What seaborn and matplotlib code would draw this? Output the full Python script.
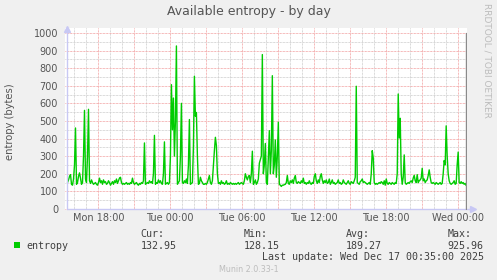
import numpy as np
import pandas as pd
import matplotlib
matplotlib.use("Agg")
import matplotlib.pyplot as plt
from matplotlib.ticker import MultipleLocator
import seaborn as sns

# ---- data (5-minute samples of available entropy, bytes) ----
seg_a = [150, 165, 185, 195, 140, 135, 170, 250, 460, 140, 150, 185, 205, 175, 140, 150,
         300, 560, 170, 150, 300, 566, 160, 145, 165, 150, 140, 145, 150, 140, 135, 150]
seg_b = [175, 150, 160, 140, 165, 150, 155, 140, 145, 160, 150, 135, 145, 155, 140, 160,
         150, 170, 145, 160, 175, 180, 150, 140, 145, 140, 145, 150, 140, 145, 140, 150,
         145, 175, 150, 140]
seg_c = [145, 150, 140, 135, 145, 140, 150, 145, 160, 375, 140, 145, 150, 145, 160, 150,
         155, 145, 200, 418, 140, 150, 145, 165, 150, 160, 145, 140, 200, 381, 140, 145,
         150, 140, 150, 300, 706, 450, 630, 300, 500, 926, 140, 150, 160, 300, 600, 150,
         145, 160, 150, 170, 145, 250, 508, 140, 145, 150, 350, 754, 527, 548, 300, 140,
         145, 180]
seg_d = [160, 150, 140, 140, 145, 140, 150, 170, 190, 150, 140, 160, 250, 330, 407, 360,
         200, 145, 150, 140, 160, 145, 150, 140, 145, 160, 140, 145, 140, 150, 145, 140,
         145, 140, 145, 140, 145, 150, 140, 145, 150, 145, 140, 160, 200, 180, 165, 185,
         190, 150, 200, 328, 140, 150, 165, 140, 150, 170, 260]
seg_e = [280, 300, 877, 200, 250, 372, 150, 140, 300, 445, 200, 330, 757, 200, 250, 392,
         180, 300, 493, 140, 135]
seg_f = [128, 135, 135, 138, 140, 150, 190, 145, 140, 160, 150, 165, 145, 175, 190, 150,
         145, 155, 150, 145, 160, 150, 175, 145, 150, 140, 150, 145, 160, 145, 140, 150,
         145, 185, 200, 160, 145, 165, 150, 185, 200, 165, 145, 160, 150, 165, 145, 150,
         170, 140, 150, 165, 145, 150, 140, 145]
seg_g = [150, 165, 145, 150, 140, 145, 165, 150, 145, 140, 150, 160, 145, 140, 155, 150,
         145, 160, 180, 697, 150, 145, 140, 155, 160, 170, 150, 155, 150, 145, 140, 145,
         150, 140, 200, 331, 290, 150, 140, 145, 140, 145, 150, 145, 155, 150, 140, 160,
         135, 170, 145, 140, 150, 145, 140, 150, 145, 140, 150, 145, 200, 653, 403, 515,
         200, 140, 180, 307]
seg_h = [150, 140, 145, 150, 145, 155, 160, 150, 175, 191, 160, 150, 195, 150, 160, 165,
         175, 231, 160, 170, 150, 160, 165, 190, 222, 180, 150, 145, 150, 145, 140, 150,
         145, 140, 145, 150, 140, 145, 200, 275, 250, 472, 300, 200, 160, 145, 140, 145,
         150, 160, 140, 145, 250, 323, 150, 145, 155, 145, 150, 140, 145, 133]
entropy = seg_a + seg_b + seg_c + seg_d + seg_e + seg_f + seg_g + seg_h

first_sample_hour = -8.57          # hours relative to Tue 00:00
sample_minutes = 5
view_start_hour = -8.78
view_end_hour = 24.75
now_line_hour = 24.64

x_tick_hours = [-6, 0, 6, 12, 18, 24]
x_tick_labels = ["Mon 18:00", "Tue 00:00", "Tue 06:00", "Tue 12:00", "Tue 18:00", "Wed 00:00"]
y_tick_values = [0, 100, 200, 300, 400, 500, 600, 700, 800, 900, 1000]

title = "Available entropy - by day"
y_label = "entropy (bytes)"
series_name = "entropy"
stat_names = ["Cur:", "Min:", "Avg:", "Max:"]
stat_values = ["132.95", "128.15", "189.27", "925.96"]
last_update = "Last update: Wed Dec 17 00:35:00 2025"
footer = "Munin 2.0.33-1"
side_text = "RRDTOOL / TOBI OETIKER"

hours = first_sample_hour + np.arange(len(entropy)) * sample_minutes / 60.0
df = pd.DataFrame({"hour": hours, "entropy": entropy})

# ---- figure ----
sns.set_theme(style="white")
plt.rcParams["font.family"] = ["DejaVu Sans"]

W, H = 497, 280
BG = "#f0f0f0"
fig = plt.figure(figsize=(W / 100, H / 100), dpi=100, facecolor=BG)

def fx(px):
    return px / W

def fy(py):
    return 1 - py / H

left_px, right_px, top_px, bottom_px = 65, 467, 28, 210
ax = fig.add_axes([fx(left_px), fy(bottom_px), fx(right_px - left_px), (bottom_px - top_px) / H])
ax.set_facecolor("white")

sns.lineplot(data=df, x="hour", y="entropy", color="#00cc00", linewidth=1.0, ax=ax, zorder=5)

ax.set_xlim(view_start_hour, view_end_hour)
ax.set_ylim(-6, 1028)

# grid
grid_hours = np.arange(-6, 25, 3)
ax.set_xticks(grid_hours)
ax.set_xticklabels([x_tick_labels[x_tick_hours.index(h)] if h in x_tick_hours else ""
                    for h in grid_hours])
ax.xaxis.set_minor_locator(MultipleLocator(1))
ax.set_yticks(y_tick_values)
ax.set_yticklabels([str(v) for v in y_tick_values])
ax.yaxis.set_minor_locator(MultipleLocator(50))
dot = (0, (0.72, 0.72))
ax.grid(which="major", color="#f2a0a0", linestyle=dot, linewidth=0.72)
ax.grid(which="minor", color="#cccccc", linestyle=dot, linewidth=0.72)
ax.set_axisbelow(True)

ax.tick_params(axis="both", which="both", length=0)
ax.tick_params(axis="y", labelsize=7, pad=5, labelcolor="#555555")
ax.tick_params(axis="x", labelsize=7, pad=2.5, labelcolor="#555555")
ax.set_xlabel("")
ax.set_ylabel("")

for s in ax.spines.values():
    s.set_visible(False)

# axis lines with arrows
axis_col = "#c8c8f4"
x0 = first_sample_hour - 0.04
ax.plot([x0, x0], [0, 1018], color=axis_col, linewidth=1.0, zorder=6, clip_on=False)
ax.plot([x0, view_end_hour + 0.5], [0, 0], color=axis_col, linewidth=1.0, zorder=6, clip_on=False)
ax.plot([x0], [1022], marker="^", markersize=4, color=axis_col, zorder=6, clip_on=False)
ax.plot([view_end_hour + 0.5], [0], marker=">", markersize=4, color=axis_col, zorder=6, clip_on=False)
ax.plot([now_line_hour, now_line_hour], [0, 1000], color="#8a8a8a", linewidth=1.0, zorder=6)

# texts
fig.text(0.5, fy(12), title, ha="center", va="center", fontsize=9, color="#555555")
fig.text(fx(10), fy(122), y_label, ha="center", va="center", rotation=90, fontsize=7.2,
         color="#555555")
fig.text(fx(487), fy(3), side_text, ha="center", va="top", rotation=270, fontsize=6.5,
         color="#bcbcbc")

mono = "DejaVu Sans Mono"
legend_col = "#404040"
fig.patches.append(plt.Rectangle((fx(14), fy(247.5)), fx(6), 6 / H, transform=fig.transFigure,
                                 facecolor="#00cc00", edgecolor="none"))
fig.text(fx(26.5), fy(245.7), series_name, ha="left", va="center", fontsize=7.2,
         family=mono, color=legend_col)
stat_x = [140.7, 243.7, 346, 447.7]
for xs, nm, val in zip(stat_x, stat_names, stat_values):
    fig.text(fx(xs), fy(233.7), nm, ha="left", va="center", fontsize=7.2, family=mono,
             color=legend_col)
    fig.text(fx(xs), fy(245.7), val, ha="left", va="center", fontsize=7.2, family=mono,
             color=legend_col)
fig.text(fx(483.5), fy(257.3), last_update, ha="right", va="center", fontsize=7.2,
         family=mono, color=legend_col)
fig.text(fx(248.5), fy(269.3), footer, ha="center", va="center", fontsize=5.8,
         color="#bdbdbd")

fig.savefig("out.png", dpi=100, facecolor=BG)
